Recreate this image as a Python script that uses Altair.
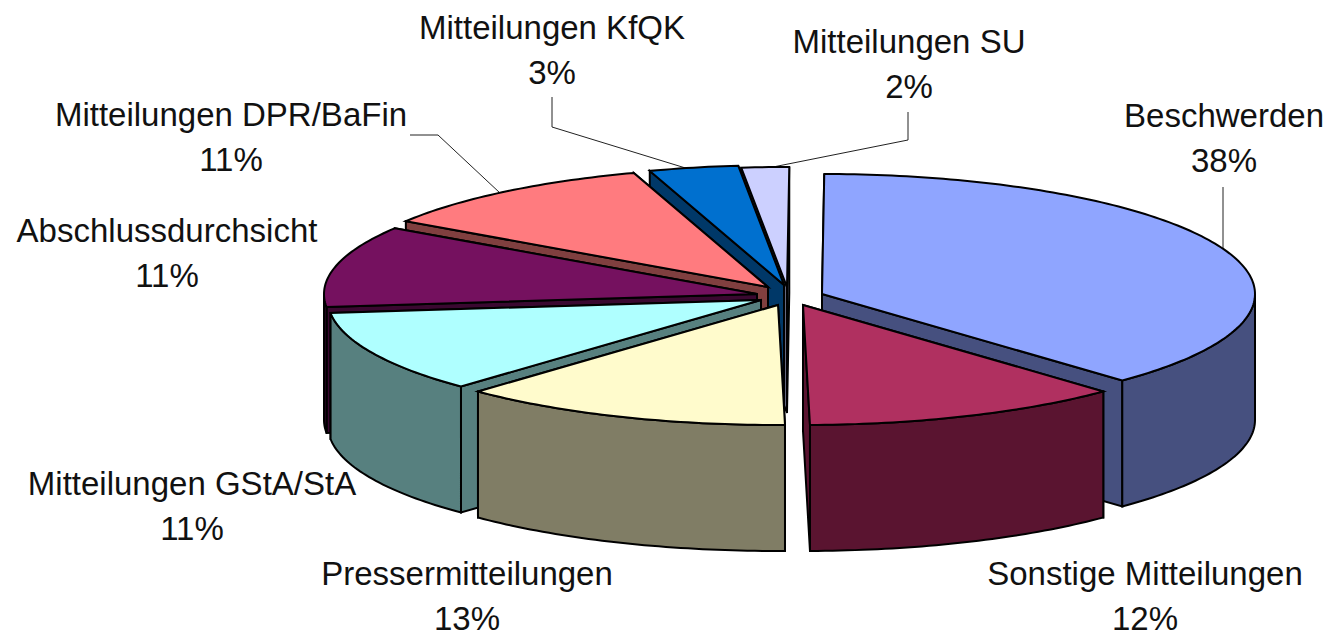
import math
import altair as alt

categories = ["Beschwerden", "Sonstige Mitteilungen", "Pressermitteilungen", "Mitteilungen GStA/StA",
              "Abschlussdurchsicht", "Mitteilungen DPR/BaFin", "Mitteilungen KfQK", "Mitteilungen SU"]
shares = [37.72, 11.94, 12.44, 11.08, 10.97, 10.75, 3.33, 1.77]
pct_labels = ["38%", "12%", "13%", "11%", "11%", "11%", "3%", "2%"]
top_colors = ["#8FA5FF", "#B03060", "#FFFBCC", "#AFFFFF", "#75115F", "#FF7B7F", "#0070CF", "#CCD0FF"]
side_colors = ["#46507F", "#5A1430", "#807D65", "#57807F", "#3A0830", "#803F3F", "#003868", "#666880"]

# layout: the exploded position of each slice's tip, label centres, leader lines (page pixels)
tips = [(822, 294), (803, 305), (778, 305), (761, 300), (757, 294), (768, 287), (784, 285), (787, 287)]
label_xy = [(1224, 117), (1145, 575), (467, 575), (192, 485), (167, 232), (231, 116), (552, 29), (909, 43)]
pct_dy = 45
leaders = [[(1223, 187), (1223, 249)],
           [(410, 135), (438, 135), (500, 193)],
           [(552, 97), (552, 127), (692, 170)],
           [(908, 112), (908, 140), (768, 168)]]
RX, RY, DEPTH, START = 433, 120, 126, 0.3
PAGE = 8


def pt(c, a, dy=0):
    r = math.radians(a)
    return [c[0] + RX * math.sin(r) - PAGE, c[1] - RY * math.cos(r) + dy - PAGE]


def feature(ring, fill):
    ring = ring + [ring[0]]
    return {"type": "Feature", "properties": {"fill": fill},
            "geometry": {"type": "Polygon", "coordinates": [ring]}}


def arc(c, a0, a1, dy=0):
    n = max(2, int(abs(a1 - a0)) + 1)
    return [pt(c, a0 + (a1 - a0) * i / n, dy) for i in range(n + 1)]


total = sum(shares)
spans = []
acc = START
for s in shares:
    spans.append((acc, acc + s / total * 360))
    acc = spans[-1][1]


def wedge(i):
    c = tips[i]
    a0, a1 = spans[i]
    apex = [c[0] - PAGE, c[1] - PAGE]
    apex_d = [apex[0], apex[1] + DEPTH]
    out = []
    # the radial face further back is painted first
    for a in sorted((a0, a1), key=lambda v: pt(c, v)[1]):
        out.append(feature([apex, pt(c, a), pt(c, a, DEPTH), apex_d], side_colors[i]))
    lo, hi = max(a0, 90), min(a1, 270)
    if hi > lo:
        out.append(feature(arc(c, lo, hi) + arc(c, hi, lo, DEPTH), side_colors[i]))
    out.append(feature([apex] + arc(c, a0, a1), top_colors[i]))
    return out


order = [7, 6, 5, 4, 3, 0, 2, 1]
features = [f for i in order for f in wedge(i)]
proj = alt.Projection(type="identity", scale=1, translate=[0, 0])

pie = alt.Chart(alt.Data(values=features)).mark_geoshape(
    stroke="black", strokeWidth=2, strokeJoin="miter"
).encode(fill=alt.Fill("properties.fill:N", scale=None)).project(**proj.to_dict())

leader_feats = [{"type": "Feature", "properties": {},
                 "geometry": {"type": "LineString",
                              "coordinates": [[x - PAGE, y - PAGE] for x, y in ln]}} for ln in leaders]
lines = alt.Chart(alt.Data(values=leader_feats)).mark_geoshape(
    filled=False, stroke="#222222", strokeWidth=1
).project(**proj.to_dict())

layers = [lines, pie]
for name, pct, (x, y) in zip(categories, pct_labels, label_xy):
    for text, yy in ((name, y), (pct, y + pct_dy)):
        layers.append(
            alt.Chart(alt.Data(values=[{"t": text}])).mark_text(
                font="Liberation Sans", fontSize=33, color="#111111", align="center", baseline="middle"
            ).encode(x=alt.value(x - PAGE), y=alt.value(yy - PAGE), text="t:N")
        )

chart = alt.layer(*layers).properties(
    width=1315, height=626, padding=0,
    autosize=alt.AutoSizeParams(type="none"),
    background="white",
).configure_view(stroke=None)

chart.save("out.html", embed_options={"renderer": "svg", "actions": False})
